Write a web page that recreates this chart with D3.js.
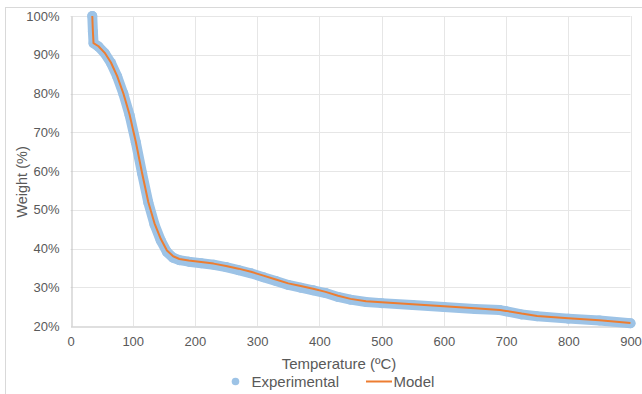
<!DOCTYPE html>
<html><head><meta charset="utf-8">
<script src="https://cdn.jsdelivr.net/npm/d3@7"></script>
<style>html,body{margin:0;padding:0;background:#fff;}svg{display:block;font-family:"Liberation Sans",Arial,sans-serif;}</style>
</head><body>
<script>
const temperature = [35,36,37,45,55,65,75,85,95,105,115,125,135,145,155,165,175,190,210,230,250,270,290,310,330,350,370,390,410,430,450,475,500,550,600,650,690,700,725,750,800,850,900];
const experimental = [100,96,93,92.1,90.4,87.9,84.4,79.9,74.4,67.4,59.4,51.9,46.2,42.1,39.1,37.6,37.0,36.6,36.2,35.8,35.2,34.4,33.6,32.6,31.6,30.6,29.9,29.2,28.5,27.5,26.8,26.2,25.9,25.4,24.9,24.4,24.1,23.8,23.0,22.5,21.9,21.4,20.7];
const model = [100,96,93,92.2,90.5,88.0,84.5,80.0,74.5,67.5,59.5,52.0,46.5,42.5,39.5,38.0,37.3,36.9,36.5,36.1,35.5,34.8,34.0,33.0,32.0,31.0,30.3,29.6,28.8,27.8,27.0,26.4,26.1,25.6,25.1,24.6,24.1,23.9,23.2,22.6,22.0,21.5,20.8];
const xTicks = [0,100,200,300,400,500,600,700,800,900];
const yTicks = [20,30,40,50,60,70,80,90,100];
const seriesNames = ["Experimental","Model"];

const W = 642, H = 394;
const svg = d3.select("body").append("svg").attr("width", W).attr("height", H);
svg.append("rect").attr("x",5.5).attr("y",7.5).attr("width",W+10).attr("height",H+10)
  .attr("fill","#fff").attr("stroke","#d9d9d9");

const x = d3.scaleLinear().domain([0,900]).range([70.5,630.5]);
const y = d3.scaleLinear().domain([20,100]).range([326,16]);
const txt = "#595959";

// gridlines
svg.append("g").selectAll("line.h").data(yTicks.filter(d=>d>20)).join("line")
  .attr("x1",x(0)).attr("x2",x(900)).attr("y1",d=>Math.round(y(d))+0.5).attr("y2",d=>Math.round(y(d))+0.5)
  .attr("stroke","#e6e6e6").attr("stroke-width",1);
svg.append("g").selectAll("line.v").data(xTicks.filter(d=>d>0)).join("line")
  .attr("x1",d=>Math.round(x(d))+0.5).attr("x2",d=>Math.round(x(d))+0.5).attr("y1",y(100)).attr("y2",y(20))
  .attr("stroke","#e6e6e6").attr("stroke-width",1);

// axes
const xAxis = svg.append("g").attr("transform",`translate(0,${Math.round(y(20))+0.5})`)
  .call(d3.axisBottom(x).tickValues(xTicks).tickSize(0).tickPadding(10).tickFormat(d3.format("d")));
const yAxis = svg.append("g").attr("transform",`translate(${Math.round(x(0))+0.5},0)`)
  .call(d3.axisLeft(y).tickValues(yTicks).tickSize(0).tickPadding(12).tickFormat(d=>d+"%"));
[xAxis,yAxis].forEach(a=>{
  a.select(".domain").attr("stroke","#bfbfbf");
  a.selectAll("text").attr("fill",txt).style("font-size","13px").style("font-family","'Liberation Sans',Arial,sans-serif");
});

// series
const expData = temperature.map((t,i)=>({t, w: experimental[i]}));
const modData = temperature.map((t,i)=>({t, w: model[i]}));
const lineL = d3.line().x(d=>x(d.t)).y(d=>y(d.w)).curve(d3.curveLinear);
svg.append("path").datum(expData).attr("d",lineL).attr("fill","none")
  .attr("stroke","#9dc3e6").attr("stroke-width",10).attr("stroke-linecap","round").attr("stroke-linejoin","round");
svg.append("g").selectAll("circle").data(expData).join("circle")
  .attr("cx",d=>x(d.t)).attr("cy",d=>y(d.w)).attr("r",5).attr("fill","#9dc3e6");
svg.append("path").datum(modData).attr("d",lineL).attr("fill","none")
  .attr("stroke","#ed7d31").attr("stroke-width",2).attr("stroke-linejoin","round");

// axis titles
svg.append("text").attr("x",339).attr("y",369).attr("text-anchor","middle")
  .attr("fill",txt).style("font-size","15px").text("Temperature (ºC)");
svg.append("text").attr("transform","translate(27,182) rotate(-90)").attr("text-anchor","middle")
  .attr("fill",txt).style("font-size","14.5px").text("Weight (%)");

// legend
svg.append("circle").attr("cx",235.5).attr("cy",381.5).attr("r",3.8).attr("fill","#9dc3e6");
svg.append("text").attr("x",251.5).attr("y",387).attr("fill",txt).style("font-size","15px").text(seriesNames[0]);
svg.append("line").attr("x1",366).attr("x2",392).attr("y1",381.5).attr("y2",381.5).attr("stroke","#ed7d31").attr("stroke-width",2);
svg.append("text").attr("x",393.5).attr("y",387).attr("fill",txt).style("font-size","15px").text(seriesNames[1]);
</script>
</body></html>
